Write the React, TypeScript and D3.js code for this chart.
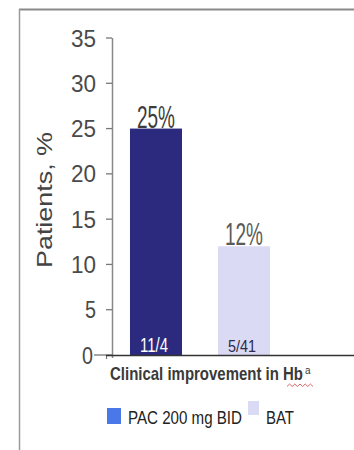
import * as React from "react";
import * as d3 from "d3";

const groups = ["PAC 200 mg BID", "BAT"];
const values = [25, 12];
const counts = ["11/4", "5/41"];
const pctLabels = ["25%", "12%"];
const yTicks = [0, 5, 10, 15, 20, 25, 30, 35];
const barColors = ["#2c2a7e", "#dadaf5"];
const legendColors = ["#4a78e8", "#dadaf5"];

const sans = "'Liberation Sans', Arial, sans-serif";

// condensed text: squeeze horizontally so the real box matches the width
const Narrow = ({ x, y, sx, width, children, ...rest }: any) => (
  <g transform={`translate(${x},${y}) scale(${sx},1)`}>
    <text
      fontFamily={sans}
      textLength={width / sx}
      lengthAdjust="spacingAndGlyphs"
      {...rest}
    >
      {children}
    </text>
  </g>
);

const App = () => {
  const y = d3.scaleLinear().domain([0, 35]).range([355, 38]);
  const x = d3
    .scaleBand()
    .domain(groups)
    .range([113, 287])
    .paddingInner(0.409)
    .paddingOuter(0.193);

  return (
    <svg
      width={354}
      height={450}
      style={{ position: "absolute", left: 0, top: 0 }}
    >
      <rect width={354} height={450} fill="#fff" />
      {/* frame */}
      <line x1={19} y1={9.5} x2={354} y2={9.5} stroke="#8a8a8a" strokeWidth={2} />
      <line x1={19.5} y1={9} x2={19.5} y2={450} stroke="#9a9a9a" strokeWidth={1.5} />

      {/* y axis */}
      <line x1={112.5} y1={y(35)} x2={112.5} y2={358} stroke="#888" strokeWidth={1.5} />
      {yTicks.map(t => (
        <g key={t}>
          <line
            x1={t === 0 ? 94 : 106}
            x2={112}
            y1={y(t)}
            y2={y(t)}
            stroke="#777"
            strokeWidth={1.3}
          />
          <text
            x={t === 0 ? 93 : 96}
            y={y(t)}
            dy="0.36em"
            textAnchor="end"
            fontFamily={sans}
            fontSize={24}
            textLength={t < 10 ? 11 : 25}
            lengthAdjust="spacingAndGlyphs"
            fill="#4a4a4a"
          >
            {t}
          </text>
        </g>
      ))}
      <line x1={106.5} y1={355} x2={106.5} y2={359} stroke="#777" strokeWidth={1.2} />

      {/* bars */}
      {groups.map((g, i) => (
        <g key={g}>
          <rect
            x={x(g)}
            y={y(values[i])}
            width={x.bandwidth()}
            height={y(0) - y(values[i])}
            fill={barColors[i]}
          />
          <text
            x={x(g)! + x.bandwidth() / 2}
            y={y(values[i]) - 1}
            textAnchor="middle"
            fontFamily={sans}
            fontSize={31}
            textLength={38}
            lengthAdjust="spacingAndGlyphs"
            fill={i === 0 ? "#3c3c3c" : "#5a5a5a"}
          >
            {pctLabels[i]}
          </text>
          <text
            x={x(g)! + x.bandwidth() / 2 - 2}
            y={352}
            textAnchor="middle"
            fontFamily={sans}
            fontSize={i === 0 ? 20 : 17}
            textLength={28}
            lengthAdjust="spacingAndGlyphs"
            fill={i === 0 ? "#ffffff" : "#2a2a4a"}
          >
            {counts[i]}
          </text>
        </g>
      ))}

      {/* x axis */}
      <line x1={106} y1={355.5} x2={354} y2={355.5} stroke="#333" strokeWidth={1.5} />

      {/* x label */}
      <Narrow x={110} y={380} sx={0.83} width={193} fontWeight="bold" fontSize={18} fill="#3a3a3a">
        Clinical improvement in Hb
      </Narrow>
      <text x={305} y={374} fontFamily={sans} fontSize={10} fill="#3a3a3a">
        a
      </text>
      <path
        d={d3.range(0, 11).map(k => `${k === 0 ? "M" : "L"}${287 + k * 2.6},${k % 2 ? 384 : 386.5}`).join("")}
        fill="none"
        stroke="#d04040"
        strokeWidth={0.8}
      />

      {/* y label */}
      <text
        transform="translate(52,200) rotate(-90)"
        textAnchor="middle"
        fontFamily={sans}
        fontSize={22}
        textLength={136}
        lengthAdjust="spacingAndGlyphs"
        fill="#444"
      >
        Patients, %
      </text>

      {/* legend */}
      <rect x={107} y={408} width={14} height={16} fill={legendColors[0]} />
      <Narrow x={128} y={424} sx={0.77} width={114} fontSize={19} fill="#222">
        {groups[0]}
      </Narrow>
      <rect x={248} y={401} width={11} height={14} fill={legendColors[1]} />
      <Narrow x={266} y={424} sx={0.77} width={28} fontSize={19} fill="#222">
        {groups[1]}
      </Narrow>
    </svg>
  );
};

export default App;
